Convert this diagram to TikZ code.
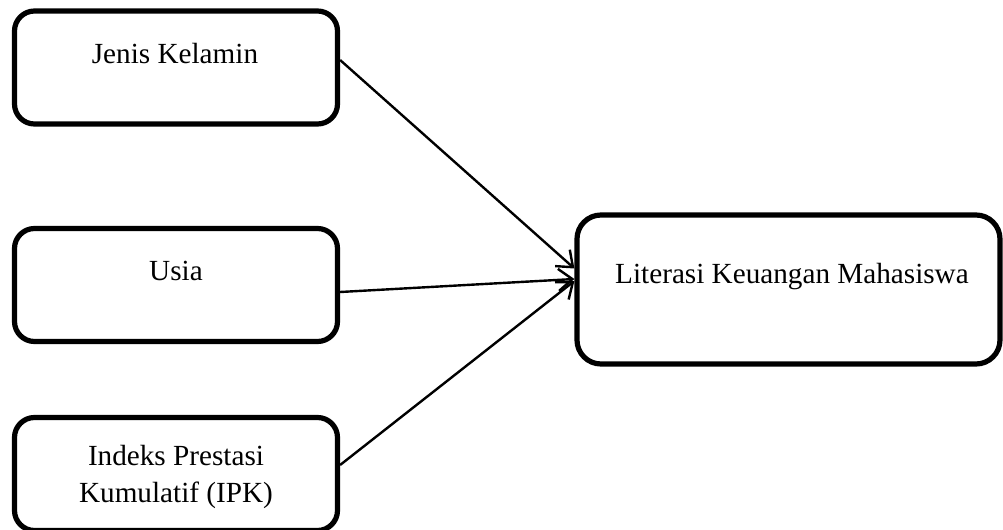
\documentclass[tikz,border=0pt]{standalone}
\usepackage{fontspec}
\setmainfont{Liberation Serif}
\usetikzlibrary{positioning,calc,arrows.meta}

\begin{document}
\begin{tikzpicture}[x=0.5pt,y=-0.5pt,font=\fontsize{14.6}{18.5}\selectfont,
    varbox/.style={draw,line width=2.6pt,rounded corners=10pt,inner sep=0pt,
      minimum width=161.5pt,minimum height=56.5pt},
    lbl/.style={inner sep=0pt,align=center,anchor=base},
    link/.style={line width=1.2pt,-{Straight Barb[length=7pt,width=11pt,line width=1.2pt]}}]
    \useasboundingbox (0,0) rectangle (1003,530);
    % ---- left: the three variables
    \node[varbox] (jk) at (176,67.5) {};
    \node[lbl] (jktxt) at (175,63) {Jenis Kelamin};
    \node[varbox] (usia) at (176,285) {};
    \node[lbl] (usiatxt) at (176,280) {Usia};
    \node[varbox] (ipk) at (176,474) {};
    \node[lbl] (ipktxt) at (176,502) {Indeks Prestasi\\Kumulatif (IPK)};
    % ---- right: dependent variable
    \node[varbox,minimum width=211.5pt,minimum height=74.5pt,rounded corners=12pt]
      (lk) at (788.5,289.5) {};
    \node[lbl] (lktxt) at (792,283) {Literasi Keuangan Mahasiswa};
    % arrow ends on the left side of lk
    \coordinate (in1) at ([yshift=10.5pt]lk.west);
    \coordinate (in2) at ([yshift=5.25pt]lk.west);
    \coordinate (in3) at ([yshift=4.25pt]lk.west);
    \draw[link] ([yshift=3.75pt]jk.east) -- (in1);
    \draw[link] ([yshift=-3.5pt]usia.east) -- (in2);
    \draw[link] ([yshift=4.5pt]ipk.east) -- (in3);
  \end{tikzpicture}
\end{document}
